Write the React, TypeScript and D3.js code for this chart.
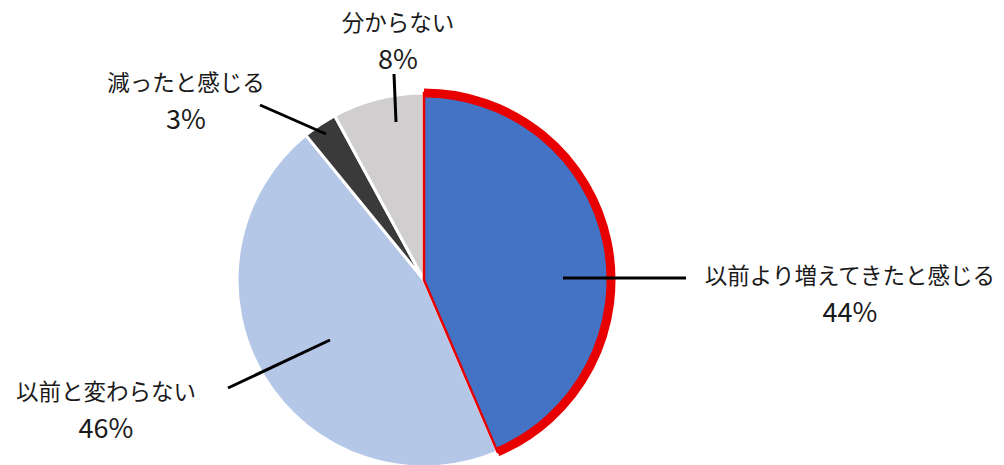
import React from 'react';
import * as d3 from 'd3';

const categories = ['以前より増えてきたと感じる', '以前と変わらない', '減ったと感じる', '分からない'];
const values = [44, 46, 3, 8];
const percentLabels = ['44%', '46%', '3%', '8%'];
const colors = ['#4472C4', '#B4C7E7', '#3A3A3A', '#D0CECE'];

const W = 1004;
const H = 465;
const CX = 424;
const CY = 280;
const R = 187;

// label layout: text anchor center position and leader line endpoints
const labelLayout = [
  { tx: 850, ty: 284, line: [563, 278, 686, 278] },
  { tx: 106, ty: 400, line: [228, 388, 330, 340] },
  { tx: 186, ty: 91, line: [260, 105, 326, 134] },
  { tx: 398, ty: 31, line: [394, 74, 396, 122] },
];

const FONT = '"Noto Sans CJK JP", "Noto Sans", sans-serif';

export default function App() {
  const pie = d3.pie<number>().sort(null).value((d) => d)(values);
  const arc = d3.arc<d3.PieArcDatum<number>>().innerRadius(0).outerRadius(R);
  const outerArc = d3.arc<d3.PieArcDatum<number>>().innerRadius(R).outerRadius(R);
  const blue = pie[0];
  return (
    <svg width={W} height={H} style={{ position: 'absolute', left: 0, top: 0, background: '#fff' }}>
      <g transform={`translate(${CX},${CY})`}>
        {pie.map((p, i) => (
          <path key={i} d={arc(p) || ''} fill={colors[i]} stroke="#fff" strokeWidth={3} strokeLinejoin="round" />
        ))}
        <path d={arc(blue) || ''} fill={colors[0]} stroke="#E80000" strokeWidth={2.5} />
        <path d={outerArc(blue) || ''} fill="none" stroke="#E80000" strokeWidth={9} />
      </g>
      {labelLayout.map((l, i) => (
        <g key={i}>
          <line x1={l.line[0]} y1={l.line[1]} x2={l.line[2]} y2={l.line[3]} stroke="#000" strokeWidth={3} />
          <text x={l.tx} y={l.ty} textAnchor="middle" fontFamily={FONT} fontSize={22.5} fill="#1a1a1a">
            {categories[i]}
          </text>
          <text x={l.tx} y={l.ty + 38} textAnchor="middle" fontFamily={FONT} fontSize={27} fill="#1a1a1a">
            {percentLabels[i]}
          </text>
        </g>
      ))}
    </svg>
  );
}
